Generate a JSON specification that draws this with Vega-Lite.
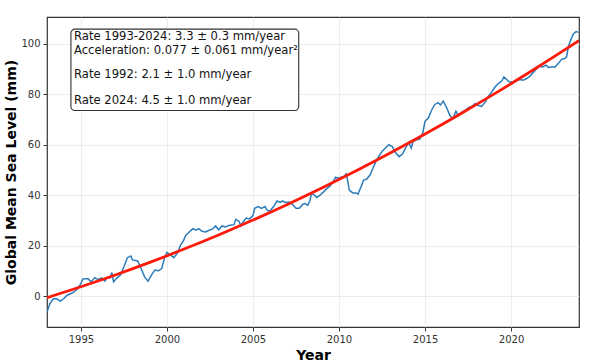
{
  "$schema": "https://vega.github.io/schema/vega-lite/v6.json",
  "width": 532,
  "height": 310,
  "autosize": {"type": "none"},
  "padding": {"left": 47, "top": 17, "right": 12, "bottom": 36},
  "background": "white",
  "config": {
    "font": "DejaVu Sans",
    "view": {"stroke": "#333333", "strokeWidth": 1.2},
    "axis": {
      "labelFont": "DejaVu Sans",
      "labelFontSize": 10,
      "labelColor": "#333333",
      "tickColor": "#333333",
      "tickSize": 4,
      "labelPadding": 3,
      "domainColor": "#333333",
      "domainWidth": 1.2,
      "gridColor": "#e8e8e8",
      "gridWidth": 0.8,
      "titleFont": "DejaVu Sans",
      "titleFontSize": 14,
      "titleFontWeight": "bold",
      "titleColor": "#000000"
    }
  },
  "datasets": {
    "sea": [
      {"year": 1993.04, "gmsl": -6.1, "series": "obs"},
      {"year": 1993.2, "gmsl": -3.1, "series": "obs"},
      {"year": 1993.4, "gmsl": -1.1, "series": "obs"},
      {"year": 1993.6, "gmsl": -1.1, "series": "obs"},
      {"year": 1993.8, "gmsl": -2.0, "series": "obs"},
      {"year": 1994.0, "gmsl": -1.1, "series": "obs"},
      {"year": 1994.2, "gmsl": 0.3, "series": "obs"},
      {"year": 1994.4, "gmsl": 0.9, "series": "obs"},
      {"year": 1994.6, "gmsl": 1.6, "series": "obs"},
      {"year": 1994.8, "gmsl": 2.9, "series": "obs"},
      {"year": 1995.0, "gmsl": 4.9, "series": "obs"},
      {"year": 1995.1, "gmsl": 6.7, "series": "obs"},
      {"year": 1995.4, "gmsl": 6.9, "series": "obs"},
      {"year": 1995.6, "gmsl": 5.6, "series": "obs"},
      {"year": 1995.8, "gmsl": 7.3, "series": "obs"},
      {"year": 1996.0, "gmsl": 6.5, "series": "obs"},
      {"year": 1996.2, "gmsl": 7.2, "series": "obs"},
      {"year": 1996.4, "gmsl": 5.9, "series": "obs"},
      {"year": 1996.5, "gmsl": 7.2, "series": "obs"},
      {"year": 1996.7, "gmsl": 7.2, "series": "obs"},
      {"year": 1996.8, "gmsl": 9.3, "series": "obs"},
      {"year": 1996.9, "gmsl": 5.6, "series": "obs"},
      {"year": 1997.1, "gmsl": 7.2, "series": "obs"},
      {"year": 1997.3, "gmsl": 8.3, "series": "obs"},
      {"year": 1997.5, "gmsl": 11.6, "series": "obs"},
      {"year": 1997.7, "gmsl": 15.2, "series": "obs"},
      {"year": 1997.9, "gmsl": 15.9, "series": "obs"},
      {"year": 1998.0, "gmsl": 14.3, "series": "obs"},
      {"year": 1998.3, "gmsl": 13.9, "series": "obs"},
      {"year": 1998.5, "gmsl": 10.9, "series": "obs"},
      {"year": 1998.7, "gmsl": 7.6, "series": "obs"},
      {"year": 1998.9, "gmsl": 5.9, "series": "obs"},
      {"year": 1999.1, "gmsl": 8.3, "series": "obs"},
      {"year": 1999.3, "gmsl": 10.3, "series": "obs"},
      {"year": 1999.5, "gmsl": 10.0, "series": "obs"},
      {"year": 1999.7, "gmsl": 10.9, "series": "obs"},
      {"year": 1999.85, "gmsl": 14.9, "series": "obs"},
      {"year": 2000.0, "gmsl": 17.3, "series": "obs"},
      {"year": 2000.2, "gmsl": 16.3, "series": "obs"},
      {"year": 2000.4, "gmsl": 15.2, "series": "obs"},
      {"year": 2000.6, "gmsl": 16.9, "series": "obs"},
      {"year": 2000.8, "gmsl": 20.3, "series": "obs"},
      {"year": 2000.95, "gmsl": 21.8, "series": "obs"},
      {"year": 2001.1, "gmsl": 24.1, "series": "obs"},
      {"year": 2001.3, "gmsl": 25.4, "series": "obs"},
      {"year": 2001.5, "gmsl": 26.7, "series": "obs"},
      {"year": 2001.7, "gmsl": 26.1, "series": "obs"},
      {"year": 2001.85, "gmsl": 26.7, "series": "obs"},
      {"year": 2002.04, "gmsl": 25.7, "series": "obs"},
      {"year": 2002.26, "gmsl": 25.4, "series": "obs"},
      {"year": 2002.45, "gmsl": 26.1, "series": "obs"},
      {"year": 2002.64, "gmsl": 26.5, "series": "obs"},
      {"year": 2002.83, "gmsl": 27.8, "series": "obs"},
      {"year": 2003.0, "gmsl": 26.3, "series": "obs"},
      {"year": 2003.2, "gmsl": 27.8, "series": "obs"},
      {"year": 2003.4, "gmsl": 27.4, "series": "obs"},
      {"year": 2003.6, "gmsl": 28.0, "series": "obs"},
      {"year": 2003.9, "gmsl": 28.3, "series": "obs"},
      {"year": 2004.0, "gmsl": 30.4, "series": "obs"},
      {"year": 2004.2, "gmsl": 29.6, "series": "obs"},
      {"year": 2004.3, "gmsl": 27.8, "series": "obs"},
      {"year": 2004.4, "gmsl": 29.1, "series": "obs"},
      {"year": 2004.6, "gmsl": 30.9, "series": "obs"},
      {"year": 2004.8, "gmsl": 30.6, "series": "obs"},
      {"year": 2005.0, "gmsl": 31.9, "series": "obs"},
      {"year": 2005.1, "gmsl": 34.8, "series": "obs"},
      {"year": 2005.3, "gmsl": 35.5, "series": "obs"},
      {"year": 2005.5, "gmsl": 34.8, "series": "obs"},
      {"year": 2005.7, "gmsl": 35.5, "series": "obs"},
      {"year": 2005.85, "gmsl": 33.8, "series": "obs"},
      {"year": 2006.0, "gmsl": 33.8, "series": "obs"},
      {"year": 2006.2, "gmsl": 35.5, "series": "obs"},
      {"year": 2006.4, "gmsl": 37.7, "series": "obs"},
      {"year": 2006.6, "gmsl": 37.1, "series": "obs"},
      {"year": 2006.7, "gmsl": 37.7, "series": "obs"},
      {"year": 2006.9, "gmsl": 37.1, "series": "obs"},
      {"year": 2007.1, "gmsl": 37.3, "series": "obs"},
      {"year": 2007.3, "gmsl": 36.4, "series": "obs"},
      {"year": 2007.5, "gmsl": 34.8, "series": "obs"},
      {"year": 2007.7, "gmsl": 34.8, "series": "obs"},
      {"year": 2007.9, "gmsl": 36.4, "series": "obs"},
      {"year": 2008.03, "gmsl": 36.7, "series": "obs"},
      {"year": 2008.18, "gmsl": 36.0, "series": "obs"},
      {"year": 2008.32, "gmsl": 38.0, "series": "obs"},
      {"year": 2008.4, "gmsl": 40.7, "series": "obs"},
      {"year": 2008.57, "gmsl": 40.0, "series": "obs"},
      {"year": 2008.7, "gmsl": 39.1, "series": "obs"},
      {"year": 2008.9, "gmsl": 40.0, "series": "obs"},
      {"year": 2009.1, "gmsl": 41.3, "series": "obs"},
      {"year": 2009.3, "gmsl": 42.7, "series": "obs"},
      {"year": 2009.47, "gmsl": 43.6, "series": "obs"},
      {"year": 2009.66, "gmsl": 45.3, "series": "obs"},
      {"year": 2009.8, "gmsl": 47.1, "series": "obs"},
      {"year": 2009.94, "gmsl": 46.7, "series": "obs"},
      {"year": 2010.13, "gmsl": 47.1, "series": "obs"},
      {"year": 2010.29, "gmsl": 47.3, "series": "obs"},
      {"year": 2010.42, "gmsl": 48.4, "series": "obs"},
      {"year": 2010.5, "gmsl": 46.0, "series": "obs"},
      {"year": 2010.6, "gmsl": 42.0, "series": "obs"},
      {"year": 2010.8, "gmsl": 40.9, "series": "obs"},
      {"year": 2011.0, "gmsl": 40.9, "series": "obs"},
      {"year": 2011.1, "gmsl": 40.4, "series": "obs"},
      {"year": 2011.28, "gmsl": 43.3, "series": "obs"},
      {"year": 2011.43, "gmsl": 46.0, "series": "obs"},
      {"year": 2011.6, "gmsl": 46.3, "series": "obs"},
      {"year": 2011.8, "gmsl": 48.0, "series": "obs"},
      {"year": 2012.0, "gmsl": 51.1, "series": "obs"},
      {"year": 2012.14, "gmsl": 53.3, "series": "obs"},
      {"year": 2012.33, "gmsl": 55.6, "series": "obs"},
      {"year": 2012.5, "gmsl": 57.3, "series": "obs"},
      {"year": 2012.7, "gmsl": 58.7, "series": "obs"},
      {"year": 2012.9, "gmsl": 60.0, "series": "obs"},
      {"year": 2013.1, "gmsl": 59.3, "series": "obs"},
      {"year": 2013.3, "gmsl": 56.7, "series": "obs"},
      {"year": 2013.5, "gmsl": 55.3, "series": "obs"},
      {"year": 2013.7, "gmsl": 56.4, "series": "obs"},
      {"year": 2013.86, "gmsl": 58.7, "series": "obs"},
      {"year": 2014.05, "gmsl": 60.9, "series": "obs"},
      {"year": 2014.2, "gmsl": 58.7, "series": "obs"},
      {"year": 2014.3, "gmsl": 61.3, "series": "obs"},
      {"year": 2014.5, "gmsl": 62.0, "series": "obs"},
      {"year": 2014.7, "gmsl": 62.3, "series": "obs"},
      {"year": 2014.87, "gmsl": 64.7, "series": "obs"},
      {"year": 2015.0, "gmsl": 69.3, "series": "obs"},
      {"year": 2015.2, "gmsl": 70.7, "series": "obs"},
      {"year": 2015.4, "gmsl": 74.0, "series": "obs"},
      {"year": 2015.57, "gmsl": 76.0, "series": "obs"},
      {"year": 2015.76, "gmsl": 76.7, "series": "obs"},
      {"year": 2015.9, "gmsl": 75.8, "series": "obs"},
      {"year": 2016.06, "gmsl": 77.3, "series": "obs"},
      {"year": 2016.26, "gmsl": 74.7, "series": "obs"},
      {"year": 2016.45, "gmsl": 71.6, "series": "obs"},
      {"year": 2016.61, "gmsl": 70.3, "series": "obs"},
      {"year": 2016.8, "gmsl": 73.3, "series": "obs"},
      {"year": 2016.94, "gmsl": 71.6, "series": "obs"},
      {"year": 2017.13, "gmsl": 72.9, "series": "obs"},
      {"year": 2017.32, "gmsl": 73.6, "series": "obs"},
      {"year": 2017.52, "gmsl": 74.7, "series": "obs"},
      {"year": 2017.71, "gmsl": 75.2, "series": "obs"},
      {"year": 2017.9, "gmsl": 76.3, "series": "obs"},
      {"year": 2018.1, "gmsl": 75.6, "series": "obs"},
      {"year": 2018.29, "gmsl": 75.2, "series": "obs"},
      {"year": 2018.49, "gmsl": 76.9, "series": "obs"},
      {"year": 2018.68, "gmsl": 79.2, "series": "obs"},
      {"year": 2018.87, "gmsl": 80.9, "series": "obs"},
      {"year": 2019.07, "gmsl": 82.9, "series": "obs"},
      {"year": 2019.26, "gmsl": 84.3, "series": "obs"},
      {"year": 2019.46, "gmsl": 85.3, "series": "obs"},
      {"year": 2019.59, "gmsl": 86.9, "series": "obs"},
      {"year": 2019.75, "gmsl": 85.9, "series": "obs"},
      {"year": 2019.9, "gmsl": 84.9, "series": "obs"},
      {"year": 2020.1, "gmsl": 84.9, "series": "obs"},
      {"year": 2020.29, "gmsl": 85.6, "series": "obs"},
      {"year": 2020.52, "gmsl": 85.9, "series": "obs"},
      {"year": 2020.71, "gmsl": 85.6, "series": "obs"},
      {"year": 2020.91, "gmsl": 86.3, "series": "obs"},
      {"year": 2021.1, "gmsl": 87.2, "series": "obs"},
      {"year": 2021.26, "gmsl": 88.5, "series": "obs"},
      {"year": 2021.45, "gmsl": 89.9, "series": "obs"},
      {"year": 2021.65, "gmsl": 91.2, "series": "obs"},
      {"year": 2021.84, "gmsl": 90.9, "series": "obs"},
      {"year": 2022.03, "gmsl": 91.6, "series": "obs"},
      {"year": 2022.17, "gmsl": 90.7, "series": "obs"},
      {"year": 2022.36, "gmsl": 90.9, "series": "obs"},
      {"year": 2022.56, "gmsl": 90.9, "series": "obs"},
      {"year": 2022.75, "gmsl": 92.3, "series": "obs"},
      {"year": 2022.94, "gmsl": 93.9, "series": "obs"},
      {"year": 2023.14, "gmsl": 94.3, "series": "obs"},
      {"year": 2023.23, "gmsl": 94.9, "series": "obs"},
      {"year": 2023.33, "gmsl": 98.9, "series": "obs"},
      {"year": 2023.47, "gmsl": 101.6, "series": "obs"},
      {"year": 2023.62, "gmsl": 104.0, "series": "obs"},
      {"year": 2023.78, "gmsl": 104.9, "series": "obs"},
      {"year": 2023.92, "gmsl": 104.6, "series": "obs"},
      {"year": 1993.03, "gmsl": -0.64, "series": "fit"},
      {"year": 1995.0, "gmsl": 3.67, "series": "fit"},
      {"year": 1997.0, "gmsl": 8.34, "series": "fit"},
      {"year": 1999.0, "gmsl": 13.32, "series": "fit"},
      {"year": 2001.0, "gmsl": 18.62, "series": "fit"},
      {"year": 2003.0, "gmsl": 24.21, "series": "fit"},
      {"year": 2005.0, "gmsl": 30.12, "series": "fit"},
      {"year": 2007.0, "gmsl": 36.34, "series": "fit"},
      {"year": 2009.0, "gmsl": 42.86, "series": "fit"},
      {"year": 2011.0, "gmsl": 49.69, "series": "fit"},
      {"year": 2013.0, "gmsl": 56.83, "series": "fit"},
      {"year": 2015.0, "gmsl": 64.28, "series": "fit"},
      {"year": 2017.0, "gmsl": 72.03, "series": "fit"},
      {"year": 2019.0, "gmsl": 80.09, "series": "fit"},
      {"year": 2021.0, "gmsl": 88.47, "series": "fit"},
      {"year": 2023.0, "gmsl": 97.14, "series": "fit"},
      {"year": 2023.95, "gmsl": 101.38, "series": "fit"}
    ],
    "box": [
      {"x1": 1994.42, "x2": 2007.66, "y1": 105.9, "y2": 73.6}
    ],
    "notes": [
      {"x": 1994.6, "y": 102.7, "label": "Rate 1993-2024: 3.3 ± 0.3 mm/year"},
      {"x": 1994.6, "y": 97.2, "label": "Acceleration: 0.077 ± 0.061 mm/year²"},
      {"x": 1994.6, "y": 87.5, "label": "Rate 1992: 2.1 ± 1.0 mm/year"},
      {"x": 1994.6, "y": 77.3, "label": "Rate 2024: 4.5 ± 1.0 mm/year"}
    ]
  },
  "layer": [
    {
      "data": {"name": "sea"},
      "transform": [{"filter": "datum.series === 'obs'"}],
      "mark": {"type": "line", "color": "#2b7bba", "strokeWidth": 1.5, "clip": true},
      "encoding": {
        "x": {
          "field": "year", "type": "quantitative",
          "scale": {"domain": [1993.03, 2023.95], "nice": false, "zero": false},
          "axis": {"title": "Year", "values": [1995, 2000, 2005, 2010, 2015, 2020], "format": "d", "titlePadding": 4, "domain": false}
        },
        "y": {
          "field": "gmsl", "type": "quantitative",
          "scale": {"domain": [-12.3, 110.7], "nice": false, "zero": false},
          "axis": {"title": "Global Mean Sea Level (mm)", "values": [0, 20, 40, 60, 80, 100], "titlePadding": 2, "domain": false}
        },
        "order": {"field": "year", "type": "quantitative"}
      }
    },
    {
      "data": {"name": "sea"},
      "transform": [{"filter": "datum.series === 'fit'"}],
      "mark": {"type": "line", "color": "#ff1a0a", "strokeWidth": 2.8, "interpolate": "monotone", "clip": true},
      "encoding": {
        "x": {"field": "year", "type": "quantitative"},
        "y": {"field": "gmsl", "type": "quantitative"}
      }
    },
    {
      "data": {"name": "box"},
      "mark": {"type": "rect", "fill": "white", "stroke": "#333333", "strokeWidth": 1.1, "cornerRadius": 4},
      "encoding": {
        "x": {"field": "x1", "type": "quantitative"},
        "x2": {"field": "x2"},
        "y": {"field": "y1", "type": "quantitative"},
        "y2": {"field": "y2"}
      }
    },
    {
      "data": {"name": "notes"},
      "mark": {"type": "text", "align": "left", "baseline": "middle", "font": "DejaVu Sans", "fontSize": 11.6, "color": "#111111"},
      "encoding": {
        "x": {"field": "x", "type": "quantitative"},
        "y": {"field": "y", "type": "quantitative"},
        "text": {"field": "label"}
      }
    }
  ]
}
